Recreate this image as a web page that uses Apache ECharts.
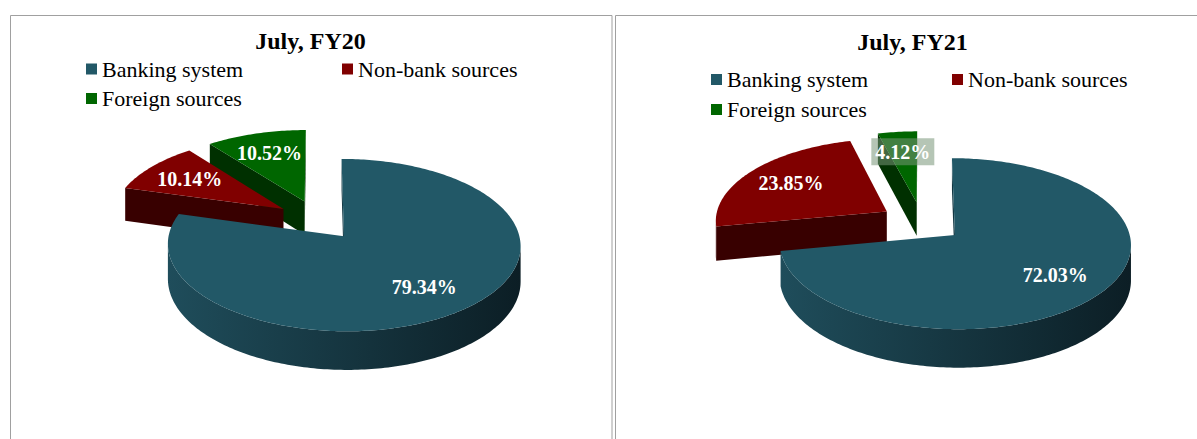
<!DOCTYPE html>
<html>
<head>
<meta charset="utf-8">
<script src="https://cdn.jsdelivr.net/npm/echarts@6/dist/echarts.min.js"></script>
<style>
html,body{margin:0;padding:0;background:#fff;}
#chart{width:1197px;height:439px;}
</style>
</head>
<body>
<div id="chart"></div>
<script>
// ---------- data ----------
const panels = ['July, FY20', 'July, FY21'];
const categories = ['Banking system', 'Non-bank sources', 'Foreign sources'];
const banking = [79.34, 72.03];
const nonBank = [10.14, 23.85];
const foreign = [10.52, 4.12];
const seriesValues = [banking, nonBank, foreign];

// ---------- styling / layout ----------
const topColors = ['#225867', '#800000', '#006600'];
const wallColors = [['#1f4d5b', '#0c1e25'], ['#4a0000', '#2a0000'], ['#004000', '#002400']];
const faceColors = ['#133743', '#380000', '#003000'];
const FONT = '"Liberation Serif", "Times New Roman", serif';

const PERSP = 0.1, SX = 172, TY = 82, DEPTH = 34, EXPLODE = 0.245, LABEL_R = 0.7;
const pieCenters = [[318, 220], [922, 222]];
const titleCenters = [[310.5, 41], [912.5, 42]];
// legend item positions per panel: [left, top] for each category
const legendPos = [
  [[86, 58], [342, 58], [86, 87.5]],
  [[711, 68.5], [952, 68.5], [711, 98.5]]
];
// which label gets a translucent box (panel, category)
const boxedLabels = [[1, 2]];

function proj(panel, X, Z, bottom) {
  const d = 1 + PERSP * Z;
  const c = pieCenters[panel];
  return [c[0] + SX * X / d, c[1] - TY * Z / d + (bottom ? DEPTH / d : 0)];
}

function sliceGeom(panel, k) {
  let total = 0, start = 0;
  seriesValues.forEach((arr, j) => { total += arr[panel]; if (j < k) start += arr[panel]; });
  const a0 = start / total * 2 * Math.PI;
  const a1 = (start + seriesValues[k][panel]) / total * 2 * Math.PI;
  const am = (a0 + a1) / 2;
  return { a0, a1, am, ox: EXPLODE * Math.sin(am), oz: EXPLODE * Math.cos(am) };
}

function depthRank(panel, k) {
  const zs = categories.map((c, j) => sliceGeom(panel, j).oz);
  const order = zs.map((z, j) => j).sort((a, b) => zs[b] - zs[a]);
  return order.indexOf(k);
}

function renderItem(params, api) {
  const k = params.seriesIndex;
  const panel = api.value(0);
  const value = api.value(1);
  const g = sliceGeom(panel, k);
  const base = depthRank(panel, k) * 10 + 10;
  const D = 1 / PERSP;
  const visible = (px, pz, nx, nz) => ((0 - px) * nx + (-D - pz) * nz) > 0;
  const n = Math.max(2, Math.ceil((g.a1 - g.a0) / (Math.PI / 180)));
  const angles = [];
  for (let i = 0; i <= n; i++) angles.push(g.a0 + (g.a1 - g.a0) * i / n);
  const ptTop = a => proj(panel, g.ox + Math.sin(a), g.oz + Math.cos(a), false);
  const ptBot = a => proj(panel, g.ox + Math.sin(a), g.oz + Math.cos(a), true);
  const apexTop = proj(panel, g.ox, g.oz, false);
  const apexBot = proj(panel, g.ox, g.oz, true);
  const children = [];

  // outer wall
  let run = [];
  const flush = () => {
    if (run.length > 1) {
      const poly = run.map(ptTop).concat(run.slice().reverse().map(ptBot));
      children.push({
        type: 'polygon', shape: { points: poly }, z2: base + 1,
        style: {
          fill: new echarts.graphic.LinearGradient(0, 0, 1, 0, [
            { offset: 0, color: wallColors[k][0] }, { offset: 1, color: wallColors[k][1] }
          ]),
          stroke: null
        }
      });
    }
    run = [];
  };
  angles.forEach(a => {
    const X = g.ox + Math.sin(a), Z = g.oz + Math.cos(a);
    if (visible(X, Z, Math.sin(a), Math.cos(a))) run.push(a); else flush();
  });
  flush();

  // cut faces
  const faces = [
    { a: g.a0, nx: -Math.cos(g.a0), nz: Math.sin(g.a0) },
    { a: g.a1, nx: Math.cos(g.a1), nz: -Math.sin(g.a1) }
  ];
  faces.forEach(f => {
    const mx = g.ox + 0.5 * Math.sin(f.a), mz = g.oz + 0.5 * Math.cos(f.a);
    if (visible(mx, mz, f.nx, f.nz)) {
      children.push({
        type: 'polygon', z2: base + 2,
        shape: { points: [apexTop, ptTop(f.a), ptBot(f.a), apexBot] },
        style: { fill: faceColors[k], stroke: null }
      });
    }
  });

  // top face
  children.push({
    type: 'polygon', z2: base + 5,
    shape: { points: [apexTop].concat(angles.map(ptTop)) },
    style: { fill: topColors[k], stroke: null }
  });

  // label
  const lp = proj(panel, g.ox + LABEL_R * Math.sin(g.am), g.oz + LABEL_R * Math.cos(g.am), false);
  const boxed = boxedLabels.some(b => b[0] === panel && b[1] === k);
  children.push({
    type: 'text', x: lp[0], y: lp[1], z2: 1000,
    style: Object.assign({
      text: value.toFixed(2) + '%',
      fill: '#ffffff',
      font: 'bold 20px ' + FONT,
      align: 'center', verticalAlign: 'middle'
    }, boxed ? { backgroundColor: 'rgba(120,150,120,0.55)', padding: [4, 4, 3, 4] } : {})
  });

  return { type: 'group', children };
}

// ---------- chart ----------
const chart = echarts.init(document.getElementById('chart'), null, { renderer: 'svg' });

const legends = [];
panels.forEach((p, pi) => {
  categories.forEach((name, k) => {
    legends.push({
      data: [{ name, itemStyle: { color: topColors[k] } }],
      left: legendPos[pi][k][0], top: legendPos[pi][k][1],
      padding: 0, itemWidth: 11, itemHeight: 11, itemGap: 0,
      icon: 'rect', selectedMode: false,
      textStyle: { fontFamily: FONT, fontSize: 22, lineHeight: 22, color: '#000' }
    });
  });
});

const graphics = [
  { type: 'rect', shape: { x: 10.5, y: 15.5, width: 601.5, height: 500 }, style: { fill: null, stroke: '#a0a0a0', lineWidth: 1 }, silent: true },
  { type: 'rect', shape: { x: 615.5, y: 15.5, width: 700, height: 500 }, style: { fill: null, stroke: '#a0a0a0', lineWidth: 1 }, silent: true }
];
panels.forEach((p, pi) => {
  graphics.push({
    type: 'text', x: titleCenters[pi][0], y: titleCenters[pi][1],
    style: { text: p, font: 'bold 24px ' + FONT, fill: '#000', align: 'center', verticalAlign: 'middle' }
  });
});

chart.setOption({
  animation: false,
  backgroundColor: '#ffffff',
  legend: legends,
  graphic: graphics,
  series: categories.map((name, k) => ({
    type: 'custom',
    name,
    coordinateSystem: 'none',
    itemStyle: { color: topColors[k] },
    data: panels.map((p, i) => [i, seriesValues[k][i]]),
    renderItem
  }))
});
</script>
</body>
</html>
